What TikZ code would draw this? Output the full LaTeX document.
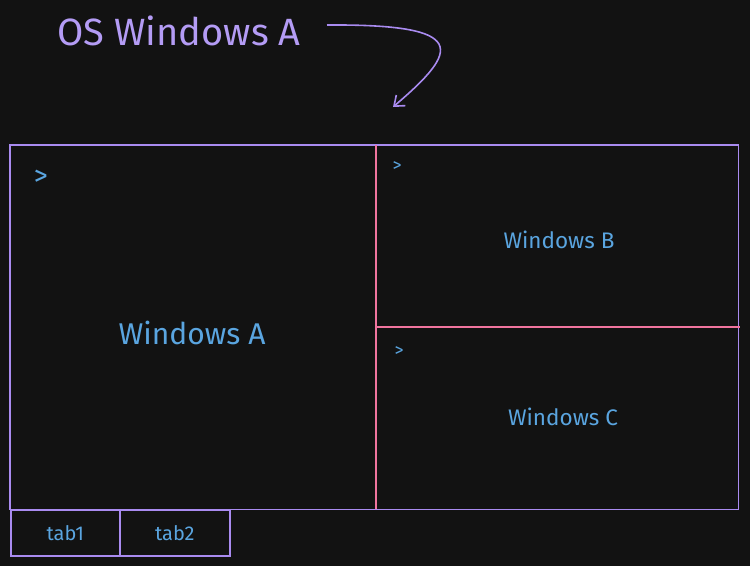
\documentclass[tikz,border=0pt]{standalone}
\usepackage{fontspec}
\setmainfont{Fira Sans}
\usetikzlibrary{arrows.meta}
\definecolor{bg}{HTML}{121212}
\definecolor{lav}{HTML}{A98BF0}
\definecolor{pinkc}{HTML}{F0749E}
\definecolor{txtb}{HTML}{5AA5E0}
\definecolor{titlec}{HTML}{B49CF5}
\tikzset{
  pane/.style={draw=none, minimum width=#1, inner sep=0pt, anchor=north west},
  lbl/.style={text=txtb, font=\fontsize{#1}{#1}\selectfont, inner sep=0pt},
  prompt/.style={text=txtb, font=\fontsize{#1}{#1}\selectfont\addfontfeature{}, inner sep=0pt},
  tabbox/.style={draw=lav, line width=1.6pt, minimum width=109pt, minimum height=46pt, inner sep=0pt, anchor=north west, text=txtb, font=\fontsize{20}{20}\selectfont}
}
\begin{document}
\begin{tikzpicture}[x=1pt,y=-1pt]
\fill[bg] (0,0) rectangle (750,566);
\useasboundingbox (0,0) rectangle (750,566);
% panes
\node[pane=366pt, minimum height=364pt] (winA) at (10,145) {};
\node[pane=362pt, minimum height=182pt] (winB) at (376,145) {};
\node[pane=362pt, minimum height=182pt] (winC) at (376,327) {};
% outer frame
\draw[lav, line width=1.5pt] (winA.north west) rectangle (winC.south east);
% splits
\draw[pinkc, line width=1.6pt] (winB.north west) -- (winC.south west);
\draw[pinkc, line width=1.6pt] (winC.north west) -- ([xshift=2pt]winC.north east);
% labels
\node[lbl=30] (la) at (192,333) {Windows A};
\node[lbl=22.5] (lb) at (559,240) {Windows B};
\node[lbl=22.5] (lc) at (563,417) {Windows C};
\node[prompt=28] (pa) at (41,178) {>};
\node[prompt=18] (pb) at (397,167) {>};
\node[prompt=18] (pc) at (399,352) {>};
% tabs
\node[tabbox] (t1) at (10,509) {tab1};
\node[tabbox, minimum width=110pt] (t2) at (119,509) {tab2};
% title
\node[text=titlec, font=\fontsize{38}{38}\selectfont, inner sep=0pt] (title) at (179,31) {OS Windows A};
\coordinate (astart) at (327,25);
\coordinate (aend) at (393,107);
\draw[lav, line width=1.6pt, -{Straight Barb[length=9pt,width=14pt]}] (astart) .. controls (470,24) and (460,50) .. (aend);
\end{tikzpicture}
\end{document}
